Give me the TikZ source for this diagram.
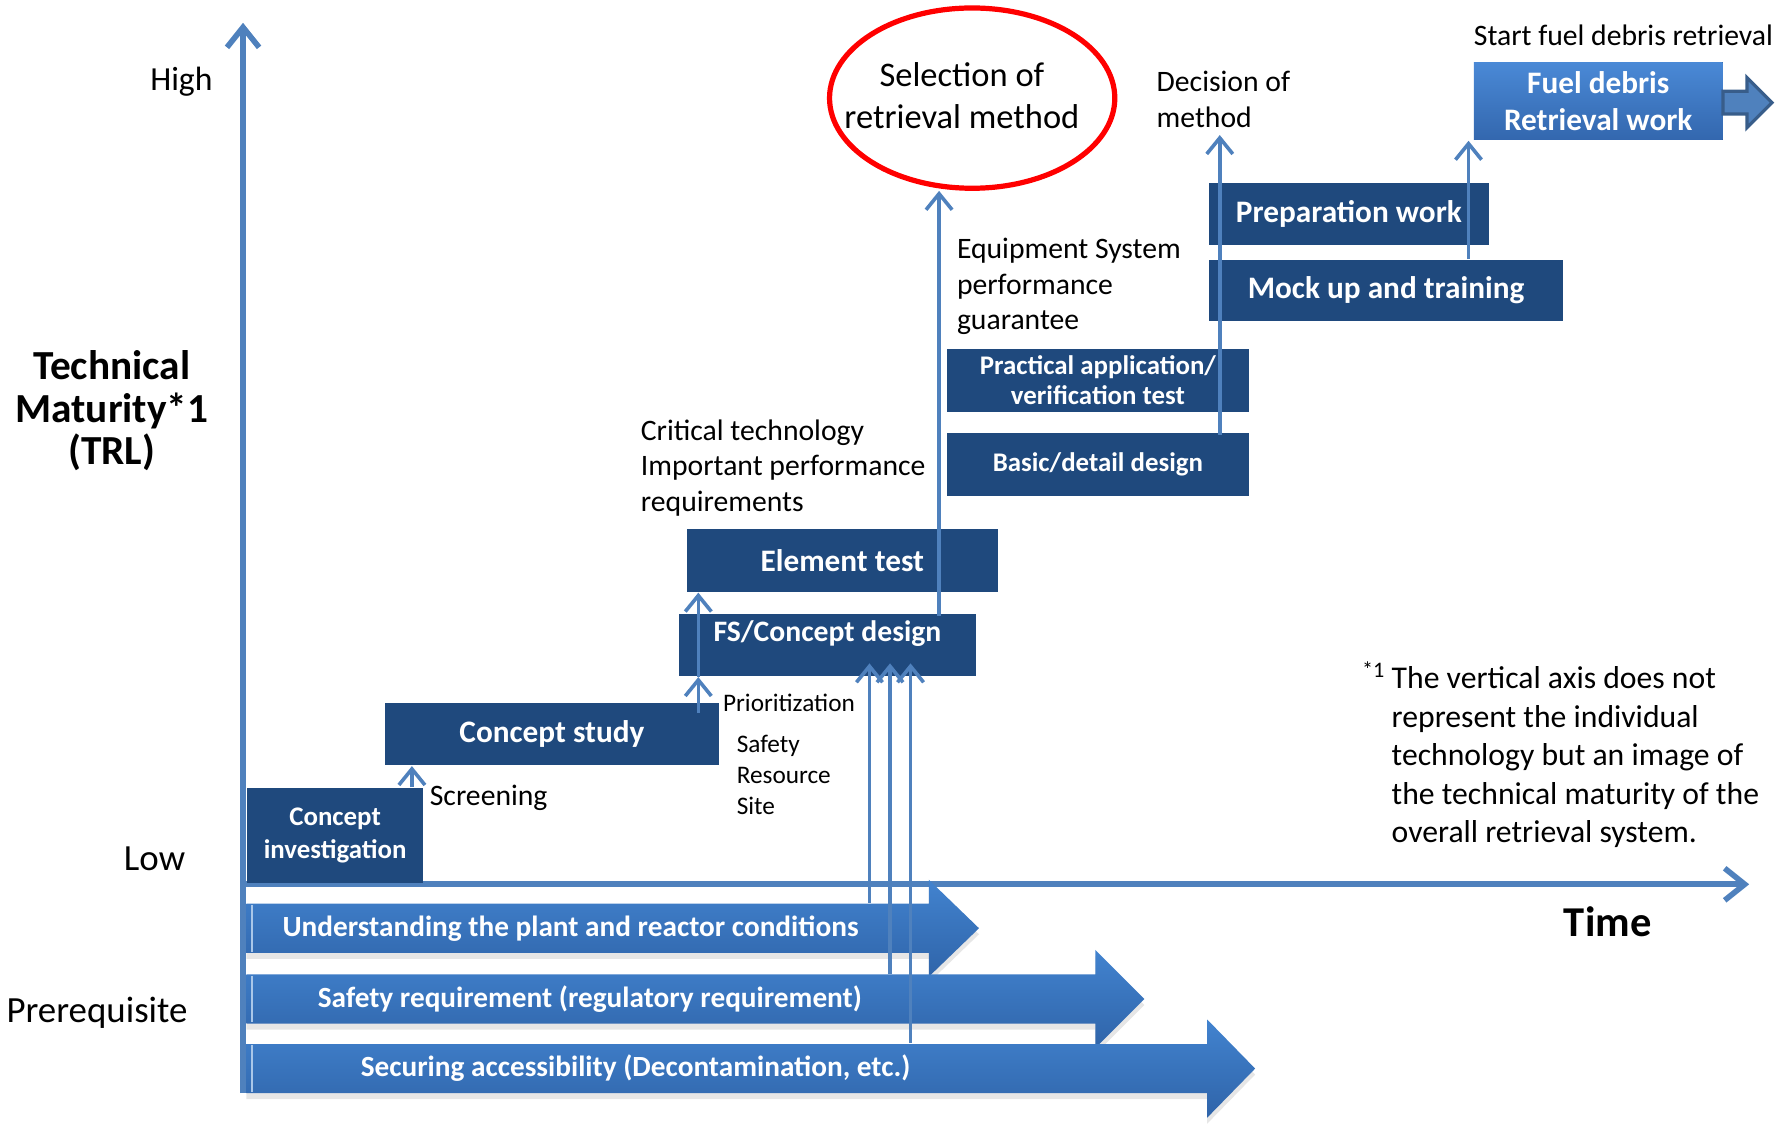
\documentclass[tikz,border=0pt]{standalone}
\usepackage{fontspec}
\setmainfont{Carlito}
\usepackage{xcolor}
\usepackage{tikz}
\usetikzlibrary{arrows.meta,shapes.geometric,shadows}

\definecolor{stageblue}{HTML}{1F497D}
\definecolor{axisblue}{HTML}{4F81BD}
\definecolor{barlight}{HTML}{4283CF}
\definecolor{bardark}{HTML}{2F64A9}
\definecolor{fuellight}{HTML}{4A89D6}
\definecolor{fueldark}{HTML}{3367AE}
\definecolor{arrowedge}{HTML}{385D8A}
\definecolor{selred}{HTML}{FF0000}

\begin{document}
\begin{tikzpicture}
        \tikzset{stage box/.style={rectangle, fill=stageblue, text=white, anchor=north west, inner sep=0pt, align=center, font=\bfseries\fontsize{7.8}{9.4}\selectfont}}
        \tikzset{small stage/.style={stage box, font=\bfseries\fontsize{6.7}{7.7}\selectfont}}
        \tikzset{plain text/.style={anchor=west, align=left, inner sep=0pt, font=\fontsize{7.4}{8.9}\selectfont}}
        \tikzset{small text/.style={plain text, font=\fontsize{6.3}{7.7}\selectfont}}
        \tikzset{side text/.style={plain text, font=\fontsize{9.2}{11}\selectfont}}
        \tikzset{axis line/.style={line width=1.4pt, color=axisblue, -{Straight Barb[length=5pt,width=8pt]}}}
        \tikzset{link/.style={line width=0.9pt, color=axisblue, -{Straight Barb[length=4pt,width=6.5pt]}}}
        \tikzset{pre bar/.style={top color=barlight, bottom color=bardark, draw=none, drop shadow={shadow xshift=0pt, shadow yshift=-1.5pt, opacity=0.2}}}
        \tikzset{pre text/.style={text=white, minimum height=0.43cm, inner sep=0pt, font=\bfseries\fontsize{7.3}{8.5}\selectfont}}

        \useasboundingbox (0,0) rectangle (15.67,-9.85);

        \coordinate (origin) at (2.13,-7.75);
        \coordinate (ytop) at (2.13,-0.20);
        \coordinate (ybot) at (2.13,-9.58);
        \coordinate (xend) at (15.33,-7.75);
        \draw[axis line] (ybot) -- (ytop);
        \draw[axis line] (origin) -- (xend);

        \shade[pre bar] (2.16,-7.92) -- (8.14,-7.92) -- (8.14,-7.71) -- (8.58,-8.135) -- (8.14,-8.56) -- (8.14,-8.35) -- (2.16,-8.35) -- cycle;
        \shade[pre bar] (2.16,-8.54) -- (9.60,-8.54) -- (9.60,-8.325) -- (10.03,-8.755) -- (9.60,-9.185) -- (9.60,-8.97) -- (2.16,-8.97) -- cycle;
        \shade[pre bar] (2.16,-9.15) -- (10.58,-9.15) -- (10.58,-8.935) -- (11.00,-9.365) -- (10.58,-9.795) -- (10.58,-9.58) -- (2.16,-9.58) -- cycle;
        \foreach \yt/\yb in {-7.93/-8.34,-8.55/-8.96,-9.16/-9.57}
            \draw[white!55!barlight, line width=0.5pt] (2.21,\yt) -- (2.21,\yb);

        \node[pre text] (und) at (5.00,-8.135) {Understanding the plant and reactor conditions};
        \node[pre text] (saf) at (5.17,-8.755) {Safety requirement (regulatory requirement)};
        \node[pre text] (acc) at (5.57,-9.365) {Securing accessibility (Decontamination, etc.)};

        \node[stage box, minimum width=1.54cm, minimum height=0.83cm, font=\bfseries\fontsize{6.7}{8.3}\selectfont] (cinv) at (2.16,-6.90) {Concept\\investigation};
        \node[stage box, minimum width=2.92cm, minimum height=0.55cm] (cstudy) at (3.37,-6.15) {Concept study};
        \node[stage box, minimum width=2.61cm, minimum height=0.55cm, text depth=0.25cm, font=\bfseries\fontsize{7.4}{9}\selectfont] (fs) at (5.94,-5.37) {FS/Concept design};
        \node[stage box, minimum width=2.73cm, minimum height=0.55cm] (elem) at (6.01,-4.63) {Element test};
        \node[small stage, minimum width=2.65cm, minimum height=0.55cm] (basic) at (8.29,-3.79) {Basic/detail design};
        \node[small stage, minimum width=2.65cm, minimum height=0.55cm] (pract) at (8.29,-3.05) {Practical application/\\verification test};
        \node[stage box, minimum width=3.10cm, minimum height=0.54cm] (mock) at (10.59,-2.27) {Mock up and training};
        \node[stage box, minimum width=2.45cm, minimum height=0.54cm] (prep) at (10.59,-1.60) {Preparation work};
        \node[stage box, minimum width=2.18cm, minimum height=0.68cm, top color=fuellight, bottom color=fueldark] (fuel) at (12.91,-0.54) {Fuel debris\\Retrieval work};
        \filldraw[fill=axisblue, draw=arrowedge, line width=0.8pt] (15.10,-0.80) -- (15.31,-0.80) -- (15.31,-0.68) -- (15.53,-0.90) -- (15.31,-1.12) -- (15.31,-1.00) -- (15.10,-1.00) -- cycle;

        \node[ellipse, draw=selred, line width=1.3pt, minimum width=2.50cm, minimum height=1.58cm, inner sep=0pt] (sel) at (8.52,-0.86) {};
        \node[align=center, inner sep=0pt, font=\fontsize{8.6}{10.5}\selectfont] (seltext) at (8.43,-0.835) {Selection of\\retrieval method};

        \node[plain text, anchor=east, font=\fontsize{8.4}{10}\selectfont] (high) at (1.87,-0.72) {High};
        \node[side text, anchor=east] (low) at (1.63,-7.53) {Low};
        \node[side text] (prereq) at (0.05,-8.88) {Prerequisite};
        \node[align=center, inner sep=0pt, font=\bfseries\fontsize{10.3}{10.6}\selectfont] (trl) at (0.98,-3.60) {Technical\\Maturity*1\\(TRL)};
        \node[inner sep=0pt, font=\bfseries\fontsize{10.6}{12}\selectfont] (time) at (14.09,-8.08) {Time};

        \node[plain text] (dec) at (10.13,-0.87) {Decision of\\method};
        \node[plain text] (start) at (12.91,-0.31) {Start fuel debris retrieval};
        \node[plain text] (equip) at (8.38,-2.51) {Equipment System\\performance\\guarantee};
        \node[plain text] (crit) at (5.61,-4.10) {Critical technology\\Important performance\\requirements};
        \node[plain text] (scr) at (3.76,-6.99) {Screening};
        \node[small text] (prio) at (6.33,-6.16) {Prioritization};
        \node[small text] (srs) at (6.45,-6.79) {Safety\\Resource\\Site};
        \node[plain text, font=\fontsize{7.9}{9.6}\selectfont] (note) at (12.19,-6.615) {\llap{\textsuperscript{*1}\,}The vertical axis does not\\represent the individual\\technology but an image of\\the technical maturity of the\\overall retrieval system.};

        \coordinate (scrx) at (3.61,0);
        \coordinate (priox) at (6.12,0);
        \coordinate (selx) at (8.23,0);
        \coordinate (decx) at (10.69,0);
        \coordinate (fuelx) at (12.87,0);
        \coordinate (reqa) at (7.62,0);
        \coordinate (reqb) at (7.80,0);
        \coordinate (reqc) at (7.98,0);

        \draw[link] (cinv.north -| scrx) -- (cstudy.south -| scrx);
        \draw[link] ([yshift=-0.1cm]cstudy.north -| priox) -- (fs.south -| priox);
        \draw[link] (fs.south -| priox) -- (elem.south -| priox);
        \draw[link] ([yshift=-0.03cm]fs.north -| selx) -- (sel.south -| selx);
        \draw[link] ([yshift=-0.02cm]basic.north -| decx) -- ([yshift=-0.06cm]dec.south -| decx);
        \draw[link] (mock.north -| fuelx) -- (fuel.south -| fuelx);
        \draw[link] (und.north -| reqa) -- ([yshift=0.12cm]fs.south -| reqa);
        \draw[link] (saf.north -| reqb) -- ([yshift=0.12cm]fs.south -| reqb);
        \draw[link] (acc.north -| reqc) -- ([yshift=0.12cm]fs.south -| reqc);
    \end{tikzpicture}
\end{document}
